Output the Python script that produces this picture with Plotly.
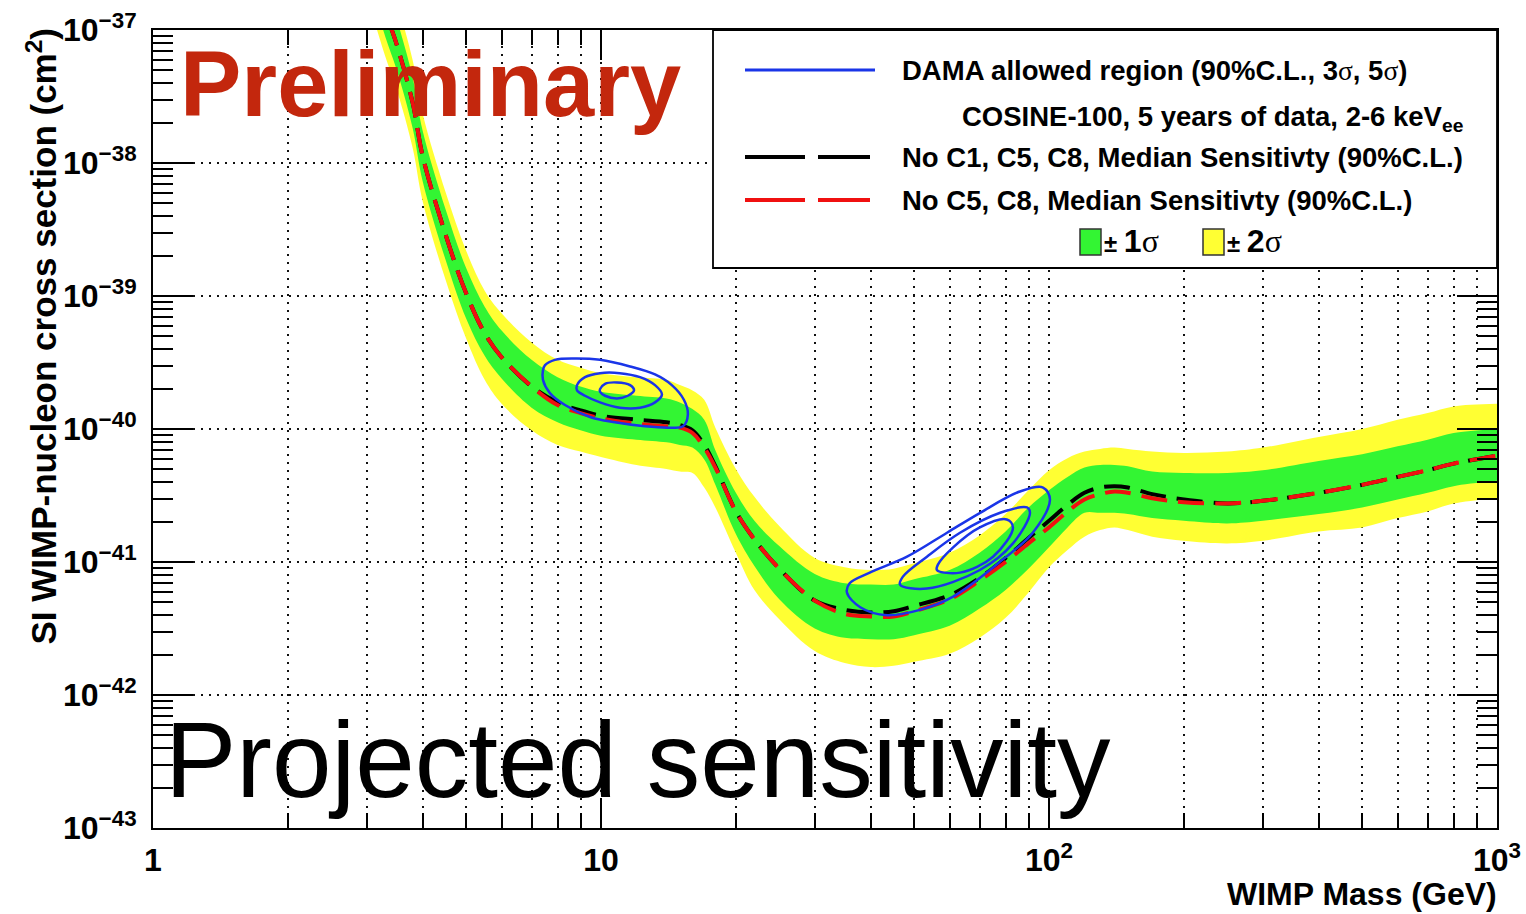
import numpy as np
import plotly.graph_objects as go

# ---------------- data ----------------
# WIMP mass grid (GeV)
mass = [3.0, 3.3, 3.5, 3.8, 4, 4.5, 5, 5.5, 6, 7,
        8, 9, 10, 12, 14, 15, 16, 17, 18, 20,
        22, 25, 30, 35, 40, 45, 50, 60, 70, 80,
        90, 100, 110, 120, 130, 140, 150, 170, 200, 250,
        300, 400, 500, 600, 700, 800, 1000]

# log10 of the SI cross section (cm^2)
median_noC1C5C8_log10 = [
    -36.40, -36.86, -37.11, -37.55, -37.95, -38.54, -38.98, -39.28, -39.46, -39.68,
    -39.80, -39.86, -39.90, -39.93, -39.95, -39.97, -40.01, -40.12, -40.28, -40.62,
    -40.83, -41.05, -41.29, -41.36, -41.38, -41.37, -41.33, -41.25, -41.12, -40.97,
    -40.82, -40.69, -40.57, -40.48, -40.44, -40.43, -40.44, -40.49, -40.53, -40.56,
    -40.54, -40.48, -40.42, -40.36, -40.31, -40.26, -40.20]

median_noC5C8_log10 = [
    -36.40, -36.86, -37.11, -37.55, -37.95, -38.54, -38.98, -39.28, -39.46, -39.68,
    -39.82, -39.88, -39.92, -39.96, -39.98, -39.99, -40.03, -40.14, -40.29, -40.62,
    -40.83, -41.05, -41.29, -41.39, -41.41, -41.41, -41.37, -41.28, -41.14, -41.00,
    -40.86, -40.74, -40.62, -40.53, -40.49, -40.47, -40.48, -40.52, -40.55, -40.56,
    -40.54, -40.48, -40.42, -40.36, -40.31, -40.26, -40.20]

plus2sigma_log10 = [
    -36.08, -36.54, -36.79, -37.23, -37.63, -38.22, -38.66, -38.96, -39.13, -39.35,
    -39.48, -39.54, -39.58, -39.61, -39.63, -39.67, -39.71, -39.78, -39.99, -40.30,
    -40.51, -40.73, -40.97, -41.04, -41.06, -41.05, -41.01, -40.93, -40.80, -40.64,
    -40.46, -40.31, -40.22, -40.17, -40.15, -40.14, -40.15, -40.17, -40.18, -40.17,
    -40.14, -40.06, -40.00, -39.93, -39.88, -39.83, -39.81]

plus1sigma_log10 = [
    -36.21, -36.67, -36.92, -37.36, -37.76, -38.35, -38.79, -39.08, -39.26, -39.48,
    -39.61, -39.68, -39.72, -39.75, -39.77, -39.80, -39.85, -39.93, -40.16, -40.48,
    -40.69, -40.88, -41.09, -41.16, -41.17, -41.17, -41.13, -41.06, -40.93, -40.77,
    -40.59, -40.46, -40.36, -40.29, -40.27, -40.27, -40.28, -40.32, -40.33, -40.33,
    -40.31, -40.24, -40.19, -40.13, -40.08, -40.03, -40.00]

minus1sigma_log10 = [
    -36.59, -37.05, -37.30, -37.74, -38.14, -38.73, -39.17, -39.45, -39.62, -39.84,
    -39.95, -40.01, -40.05, -40.08, -40.10, -40.12, -40.14, -40.23, -40.42, -40.79,
    -41.03, -41.28, -41.50, -41.57, -41.58, -41.58, -41.55, -41.48, -41.35, -41.21,
    -41.05, -40.89, -40.74, -40.63, -40.63, -40.63, -40.64, -40.67, -40.69, -40.71,
    -40.69, -40.64, -40.59, -40.53, -40.48, -40.43, -40.39]

minus2sigma_log10 = [
    -36.74, -37.20, -37.45, -37.89, -38.29, -38.88, -39.32, -39.63, -39.81, -40.01,
    -40.12, -40.17, -40.21, -40.27, -40.30, -40.32, -40.33, -40.44, -40.59, -40.93,
    -41.21, -41.43, -41.67, -41.76, -41.79, -41.78, -41.75, -41.69, -41.57, -41.42,
    -41.23, -41.04, -40.91, -40.81, -40.76, -40.74, -40.76, -40.81, -40.84, -40.86,
    -40.84, -40.77, -40.74, -40.67, -40.62, -40.56, -40.52]

# DAMA allowed regions: (mass GeV, log10 cross section) contours
dama_low_5s_m = [7.50, 7.89, 8.75, 9.95, 11.61, 13.20, 14.39, 15.31, 15.63, 15.24,
                 14.26, 12.53, 10.74, 9.45, 8.31, 7.69, 7.42, 7.42, 7.50]
dama_low_5s_s = [-39.52, -39.48, -39.47, -39.48, -39.53, -39.59, -39.67, -39.78, -39.89, -39.98,
                 -39.99, -39.98, -39.95, -39.91, -39.82, -39.73, -39.63, -39.56, -39.52]
dama_low_3s_m = [8.84, 9.21, 9.95, 11.02, 12.22, 13.20, 13.68, 13.20, 12.22, 11.02,
                 9.95, 9.21, 8.84, 8.84]
dama_low_3s_s = [-39.67, -39.61, -39.58, -39.58, -39.61, -39.67, -39.74, -39.80, -39.84, -39.84,
                 -39.80, -39.75, -39.71, -39.67]
dama_low_90_m = [9.95, 10.21, 10.86, 11.61, 11.85, 11.48, 10.86, 10.21, 9.95, 9.95]
dama_low_90_s = [-39.70, -39.66, -39.65, -39.67, -39.71, -39.75, -39.77, -39.75, -39.72, -39.70]

dama_high_5s_m = [35.4, 37.9, 43.5, 51.5, 61.1, 78.9, 92.0, 100.5, 97.0, 86.1,
                  70.2, 59.2, 48.2, 39.8, 35.9, 35.4]
dama_high_5s_s = [-41.23, -41.34, -41.40, -41.36, -41.26, -40.98, -40.78, -40.53, -40.44, -40.47,
                  -40.63, -40.78, -40.96, -41.08, -41.16, -41.23]
dama_high_3s_m = [46.5, 53.4, 70.1, 83.1, 90.7, 89.3, 77.8, 63.3, 53.4, 47.2, 46.5]
dama_high_3s_s = [-41.17, -41.20, -41.06, -40.86, -40.63, -40.59, -40.63, -40.78, -40.96, -41.11,
                  -41.17]
dama_high_90_m = [56.2, 63.3, 75.0, 83.1, 80.5, 70.1, 61.1, 56.5, 56.2]
dama_high_90_s = [-41.06, -41.08, -40.96, -40.74, -40.68, -40.74, -40.89, -41.02, -41.06]

x_tick_vals = [1, 10, 100, 1000]
x_tick_text = ["1", "10", "10<sup>2</sup>", "10<sup>3</sup>"]
y_tick_exps = [-43, -42, -41, -40, -39, -38, -37]

# ---------------- styling ----------------
W, H = 1526, 914
L, R, T, B = 153, 1497, 30, 828
YELLOW = "#FFFF33"
GREEN = "#33F533"
BLUE = "#1A35E8"
RED = "#F01010"
FONT = "Liberation Sans"
SERIF = "Liberation Serif"


def px(x):
    return (x - L) / (R - L)


def py(y):
    return (B - y) / (B - T)


def sig(a):
    return np.power(10.0, np.array(a))


fig = go.Figure()

# +-2 sigma band
fig.add_trace(go.Scatter(x=mass, y=sig(minus2sigma_log10), mode="lines",
                         line=dict(width=0, shape="spline"), showlegend=False, hoverinfo="skip"))
fig.add_trace(go.Scatter(x=mass, y=sig(plus2sigma_log10), mode="lines", fill="tonexty",
                         fillcolor=YELLOW, line=dict(width=0, shape="spline"),
                         showlegend=False, hoverinfo="skip"))
# +-1 sigma band
fig.add_trace(go.Scatter(x=mass, y=sig(minus1sigma_log10), mode="lines",
                         line=dict(width=0, shape="spline"), showlegend=False, hoverinfo="skip"))
fig.add_trace(go.Scatter(x=mass, y=sig(plus1sigma_log10), mode="lines", fill="tonexty",
                         fillcolor=GREEN, line=dict(width=0, shape="spline"),
                         showlegend=False, hoverinfo="skip"))

# median sensitivities
fig.add_trace(go.Scatter(x=mass, y=sig(median_noC1C5C8_log10), mode="lines",
                         line=dict(color="black", width=4, dash="26px,11px", shape="spline"),
                         showlegend=False))
fig.add_trace(go.Scatter(x=mass, y=sig(median_noC5C8_log10), mode="lines",
                         line=dict(color=RED, width=4, dash="26px,11px", shape="spline"),
                         showlegend=False))

# DAMA contours
for m, s in [(dama_low_5s_m, dama_low_5s_s), (dama_low_3s_m, dama_low_3s_s),
             (dama_low_90_m, dama_low_90_s), (dama_high_5s_m, dama_high_5s_s),
             (dama_high_3s_m, dama_high_3s_s), (dama_high_90_m, dama_high_90_s)]:
    fig.add_trace(go.Scatter(x=m, y=sig(s), mode="lines",
                             line=dict(color=BLUE, width=2.5, shape="spline", smoothing=1.0),
                             showlegend=False))

grid_style = dict(gridcolor="#111111", gridwidth=1.8, griddash="2px,6px")

fig.update_xaxes(
    type="log", range=[0, 3], automargin=False,
    showline=True, linecolor="black", linewidth=2, mirror="allticks",
    ticks="inside", ticklen=30, tickwidth=1.5, tickcolor="black",
    tickmode="array", tickvals=x_tick_vals, ticktext=x_tick_text,
    tickfont=dict(family=FONT, size=32, color="black", weight="bold"),
    ticklabelstandoff=3,
    showgrid=True, **grid_style,
    minor=dict(ticks="inside", ticklen=15, tickwidth=1.5, tickcolor="black",
               tickvals=[d * 10 ** e for e in range(0, 3) for d in range(2, 10)],
               showgrid=True, **grid_style),
    zeroline=False,
)

fig.update_yaxes(
    type="log", range=[-43, -37], automargin=False,
    showline=True, linecolor="black", linewidth=2, mirror="allticks",
    ticks="inside", ticklen=40, tickwidth=1.5, tickcolor="black",
    tickmode="array", tickvals=[10.0 ** e for e in y_tick_exps],
    ticktext=["10<sup>\u2212%d</sup>" % (-e) for e in y_tick_exps],
    tickfont=dict(family=FONT, size=32, color="black", weight="bold"),
    ticklabelstandoff=8,
    showgrid=True, **grid_style,
    minor=dict(ticks="inside", ticklen=20, tickwidth=1.5, tickcolor="black",
               tickvals=[d * 10.0 ** e for e in range(-43, -37) for d in range(2, 10)],
               showgrid=False),
    zeroline=False,
)

sg = "<span style=\"font-family:'%s';font-weight:normal\">\u03c3</span>" % SERIF
sg_big = "<span style=\"font-family:'%s';font-weight:normal;font-size:32px\">\u03c3</span>" % SERIF
LEG = 27.5

annotations = [
    dict(text="<b>Preliminary</b>", x=px(178), y=py(84), xanchor="left", yanchor="middle",
         font=dict(family=FONT, size=92, color="#C3270D")),
    dict(text="Projected sensitivity", x=px(163), y=py(760), xanchor="left", yanchor="middle",
         font=dict(family=FONT, size=107, color="black")),
    dict(text="<b>SI WIMP-nucleon cross section (cm<sup>2</sup>)</b>", textangle=-90,
         x=px(42), y=py(26), xanchor="center", yanchor="top",
         font=dict(family=FONT, size=35, color="black")),
    dict(text="<b>WIMP Mass (GeV)</b>", x=px(1499), y=py(894), xanchor="right", yanchor="middle",
         font=dict(family=FONT, size=32, color="black")),
    # legend texts
    dict(text="<b>DAMA allowed region (90%%C.L., 3%s, 5%s)</b>" % (sg, sg),
         x=px(900), y=py(70), xanchor="left", yanchor="middle",
         font=dict(family=FONT, size=LEG, color="black")),
    dict(text="<b>COSINE-100, 5 years of data, 2-6 keV<sub>ee</sub></b>",
         x=px(960), y=py(119), xanchor="left", yanchor="middle",
         font=dict(family=FONT, size=LEG, color="black")),
    dict(text="<b>No C1, C5, C8, Median Sensitivty (90%C.L.)</b>",
         x=px(900), y=py(157), xanchor="left", yanchor="middle",
         font=dict(family=FONT, size=LEG, color="black")),
    dict(text="<b>No C5, C8, Median Sensitivty (90%C.L.)</b>",
         x=px(900), y=py(200), xanchor="left", yanchor="middle",
         font=dict(family=FONT, size=LEG, color="black")),
    dict(text="<b>\u00b1 <span style='font-size:32px'>1</span></b>" + sg_big,
         x=px(1102), y=py(241), xanchor="left", yanchor="middle",
         font=dict(family=FONT, size=24, color="black")),
    dict(text="<b>\u00b1 <span style='font-size:32px'>2</span></b>" + sg_big,
         x=px(1225), y=py(241), xanchor="left", yanchor="middle",
         font=dict(family=FONT, size=24, color="black")),
]
for a in annotations:
    a.update(xref="paper", yref="paper", showarrow=False)

shapes = [
    # legend frame
    dict(type="rect", x0=px(713), x1=px(1497), y0=py(268), y1=py(30),
         fillcolor="white", line=dict(color="black", width=1.8)),
    dict(type="line", x0=px(745), x1=px(875), y0=py(70), y1=py(70),
         line=dict(color=BLUE, width=3)),
    dict(type="line", x0=px(745), x1=px(870), y0=py(157), y1=py(157),
         line=dict(color="black", width=4, dash="60px,13px")),
    dict(type="line", x0=px(745), x1=px(870), y0=py(200), y1=py(200),
         line=dict(color=RED, width=4, dash="60px,13px")),
    dict(type="rect", x0=px(1080), x1=px(1101), y0=py(255), y1=py(229),
         fillcolor=GREEN, line=dict(color="#333333", width=1.5)),
    dict(type="rect", x0=px(1203), x1=px(1224), y0=py(255), y1=py(229),
         fillcolor=YELLOW, line=dict(color="#333333", width=1.5)),
]
for s in shapes:
    s.update(xref="paper", yref="paper", layer="above")

fig.update_layout(
    width=W, height=H,
    margin=dict(l=L, r=W - R, t=T, b=H - B, autoexpand=False),
    paper_bgcolor="white", plot_bgcolor="white",
    showlegend=False,
    annotations=annotations,
    shapes=shapes,
)

fig.write_html("out.html")
